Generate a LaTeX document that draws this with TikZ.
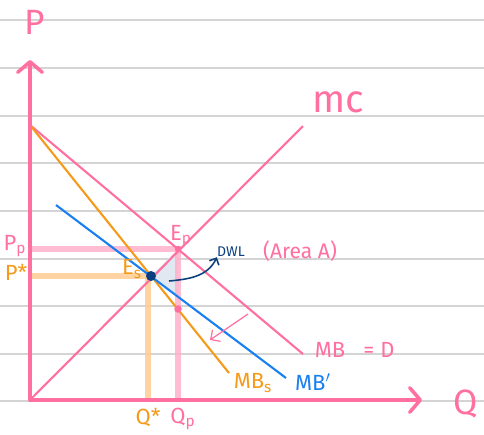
\documentclass[tikz,border=0pt]{standalone}
\usepackage{fontspec}
\setmainfont{Fira Sans}
\usetikzlibrary{arrows.meta, positioning}

\definecolor{hotpink}{HTML}{FF6FA0}
\definecolor{softpink}{HTML}{FFB0CB}
\definecolor{tangerine}{HTML}{F59A1B}
\definecolor{softorange}{HTML}{FFCC92}
\definecolor{skyblue}{HTML}{1A7FF0}
\definecolor{navy}{HTML}{0C3F7E}
\definecolor{rulegray}{HTML}{D4D4D4}
\definecolor{areablue}{HTML}{E2E8F1}

\begin{document}
\begin{tikzpicture}[
        x=0.02cm, y=-0.02cm,
        ruled/.style={draw=rulegray, line width=0.7pt},
        axis/.style={draw=hotpink, line width=2pt, line cap=round, -{Straight Barb[length=6pt, width=14pt, line width=2pt, round]}},
        curve/.style={line width=1.2pt},
        guide/.style={line width=3pt, opacity=0.85},
        dot/.style={circle, inner sep=0pt, minimum size=#1},
        lbl/.style={inner sep=0pt, font=\fontsize{12.5}{12.5}\selectfont}
    ]
        \useasboundingbox (0,0) rectangle (484,434);

        % Ruled paper
        \foreach \yy in {20,68,116,163,211,259,306,354,401}
            \draw[ruled] (0,\yy) -- (484,\yy);

        % Coordinates
        \coordinate (O) at (30,400);
        \coordinate (ytop) at (30,60);
        \coordinate (xend) at (422,400);
        \coordinate (mbtop) at (30,125);
        \coordinate (mbend) at (303,354);
        \coordinate (mbsend) at (229,373);
        \coordinate (mbpstart) at (56,205);
        \coordinate (mbpend) at (286,378);
        \coordinate (mcend) at (303,126);
        \coordinate (Es) at (151,276);
        \coordinate (Ep) at (178,249);
        \coordinate (Xb) at (178,297);
        \coordinate (Xo) at (178,309);
        \coordinate (pp) at (30,249);
        \coordinate (ps) at (30,276);
        \coordinate (qs) at (148,400);
        \coordinate (qp) at (178,400);

        % Deadweight loss
        \fill[areablue] (Es) -- (Ep) -- (Xb) -- cycle;

        % Guide lines
        \draw[guide, softpink] (pp) -- (Ep) -- (qp);
        \draw[guide, softorange] (ps) -- (Es);
        \draw[guide, softorange] (qs) -- (qs |- Es);

        % Curves
        \draw[curve, hotpink] (mbtop) -- (mbend);
        \draw[curve, tangerine] (mbtop) -- (mbsend);
        \draw[curve, skyblue] (mbpstart) -- (mbpend);
        \draw[curve, hotpink] (O) -- (mcend);

        % Axes
        \draw[axis] (O) -- (ytop);
        \draw[axis] (O) -- (xend);

        % Points
        \node[dot=0.2cm, fill=navy] (esdot) at (Es) {};
        \node[dot=0.13cm, fill=hotpink] (epdot) at (Ep) {};
        \node[dot=0.15cm, fill=hotpink] (xodot) at (Xo) {};

        % Labels
        \node[lbl, hotpink, font=\fontsize{20}{20}\selectfont] (plab) at (35,22) {P};
        \node[lbl, hotpink, font=\fontsize{20}{20}\selectfont] (qlab) at (466,404) {Q};
        \node[lbl, hotpink, font=\fontsize{22}{22}\selectfont] (mclab) at (338,102) {mc};
        \node[lbl, hotpink] (mblab) at (330,350) {MB};
        \node[lbl, hotpink, right=10pt of mblab] (dlab) {= D};
        \node[lbl, skyblue] (mbplab) at (313,382) {MB$'$};
        \node[lbl, tangerine] (mbslab) at (253,383) {MB\textsubscript{s}};
        \node[lbl, hotpink] (pplab) at (15,246) {P\textsubscript{p}};
        \node[lbl, tangerine] (pslab) at (16,272) {P*};
        \node[lbl, tangerine] (qslab) at (148,418) {Q*};
        \node[lbl, hotpink] (qplab) at (183,419) {Q\textsubscript{p}};
        \node[lbl, tangerine] (eslab) at (132,269) {E\textsubscript{s}};
        \node[lbl, hotpink] (eplab) at (181,236) {E\textsubscript{p}};
        \node[lbl, navy, font=\fontsize{8}{8}\selectfont] (dwl) at (231,252) {DWL};
        \node[lbl, hotpink, font=\fontsize{12}{12}\selectfont] (area) at (300,251) {(Area A)};

        % Arrows
        \draw[navy, line width=0.9pt, -{Straight Barb[length=3pt]}] (169,281) to[out=5, in=245] (dwl.south west);
        \draw[hotpink, line width=0.7pt, -{Straight Barb[length=4pt]}] (248,314) -- (210,340);
    \end{tikzpicture}
\end{document}
